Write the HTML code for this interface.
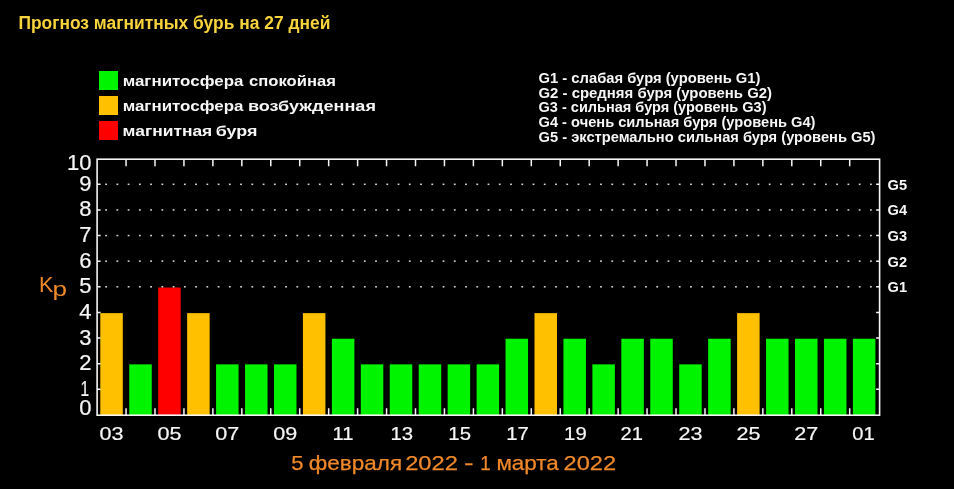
<!DOCTYPE html>
<html><head><meta charset="utf-8"><style>
html,body{margin:0;padding:0;background:#000;}
body{width:954px;height:489px;position:relative;overflow:hidden;font-family:"Liberation Sans",sans-serif;-webkit-font-smoothing:antialiased;}
svg{will-change:transform;}
</style></head><body>
<svg width="954" height="489" viewBox="0 0 954 489" style="position:absolute;left:0;top:0"><rect x="100.30" y="313.12" width="22.5" height="102.08" fill="#ffc000"/><rect x="129.25" y="364.36" width="22.5" height="50.84" fill="#00f400"/><rect x="158.19" y="287.50" width="22.5" height="127.70" fill="#ff0000"/><rect x="187.14" y="313.12" width="22.5" height="102.08" fill="#ffc000"/><rect x="216.08" y="364.36" width="22.5" height="50.84" fill="#00f400"/><rect x="245.03" y="364.36" width="22.5" height="50.84" fill="#00f400"/><rect x="273.98" y="364.36" width="22.5" height="50.84" fill="#00f400"/><rect x="302.92" y="313.12" width="22.5" height="102.08" fill="#ffc000"/><rect x="331.87" y="338.74" width="22.5" height="76.46" fill="#00f400"/><rect x="360.81" y="364.36" width="22.5" height="50.84" fill="#00f400"/><rect x="389.76" y="364.36" width="22.5" height="50.84" fill="#00f400"/><rect x="418.71" y="364.36" width="22.5" height="50.84" fill="#00f400"/><rect x="447.65" y="364.36" width="22.5" height="50.84" fill="#00f400"/><rect x="476.60" y="364.36" width="22.5" height="50.84" fill="#00f400"/><rect x="505.54" y="338.74" width="22.5" height="76.46" fill="#00f400"/><rect x="534.49" y="313.12" width="22.5" height="102.08" fill="#ffc000"/><rect x="563.44" y="338.74" width="22.5" height="76.46" fill="#00f400"/><rect x="592.38" y="364.36" width="22.5" height="50.84" fill="#00f400"/><rect x="621.33" y="338.74" width="22.5" height="76.46" fill="#00f400"/><rect x="650.27" y="338.74" width="22.5" height="76.46" fill="#00f400"/><rect x="679.22" y="364.36" width="22.5" height="50.84" fill="#00f400"/><rect x="708.17" y="338.74" width="22.5" height="76.46" fill="#00f400"/><rect x="737.11" y="313.12" width="22.5" height="102.08" fill="#ffc000"/><rect x="766.06" y="338.74" width="22.5" height="76.46" fill="#00f400"/><rect x="795.00" y="338.74" width="22.5" height="76.46" fill="#00f400"/><rect x="823.95" y="338.74" width="22.5" height="76.46" fill="#00f400"/><rect x="852.90" y="338.74" width="22.5" height="76.46" fill="#00f400"/><g fill="#d8d8d8"><rect x="105.20" y="286.05" width="1.8" height="1.5"/><rect x="116.45" y="286.05" width="1.8" height="1.5"/><rect x="127.69" y="286.05" width="1.8" height="1.5"/><rect x="138.94" y="286.05" width="1.8" height="1.5"/><rect x="150.19" y="286.05" width="1.8" height="1.5"/><rect x="161.43" y="286.05" width="1.8" height="1.5"/><rect x="172.68" y="286.05" width="1.8" height="1.5"/><rect x="183.93" y="286.05" width="1.8" height="1.5"/><rect x="195.18" y="286.05" width="1.8" height="1.5"/><rect x="206.42" y="286.05" width="1.8" height="1.5"/><rect x="217.67" y="286.05" width="1.8" height="1.5"/><rect x="228.92" y="286.05" width="1.8" height="1.5"/><rect x="240.16" y="286.05" width="1.8" height="1.5"/><rect x="251.41" y="286.05" width="1.8" height="1.5"/><rect x="262.66" y="286.05" width="1.8" height="1.5"/><rect x="273.90" y="286.05" width="1.8" height="1.5"/><rect x="285.15" y="286.05" width="1.8" height="1.5"/><rect x="296.40" y="286.05" width="1.8" height="1.5"/><rect x="307.65" y="286.05" width="1.8" height="1.5"/><rect x="318.89" y="286.05" width="1.8" height="1.5"/><rect x="330.14" y="286.05" width="1.8" height="1.5"/><rect x="341.39" y="286.05" width="1.8" height="1.5"/><rect x="352.63" y="286.05" width="1.8" height="1.5"/><rect x="363.88" y="286.05" width="1.8" height="1.5"/><rect x="375.13" y="286.05" width="1.8" height="1.5"/><rect x="386.38" y="286.05" width="1.8" height="1.5"/><rect x="397.62" y="286.05" width="1.8" height="1.5"/><rect x="408.87" y="286.05" width="1.8" height="1.5"/><rect x="420.12" y="286.05" width="1.8" height="1.5"/><rect x="431.36" y="286.05" width="1.8" height="1.5"/><rect x="442.61" y="286.05" width="1.8" height="1.5"/><rect x="453.86" y="286.05" width="1.8" height="1.5"/><rect x="465.10" y="286.05" width="1.8" height="1.5"/><rect x="476.35" y="286.05" width="1.8" height="1.5"/><rect x="487.60" y="286.05" width="1.8" height="1.5"/><rect x="498.85" y="286.05" width="1.8" height="1.5"/><rect x="510.09" y="286.05" width="1.8" height="1.5"/><rect x="521.34" y="286.05" width="1.8" height="1.5"/><rect x="532.59" y="286.05" width="1.8" height="1.5"/><rect x="543.83" y="286.05" width="1.8" height="1.5"/><rect x="555.08" y="286.05" width="1.8" height="1.5"/><rect x="566.33" y="286.05" width="1.8" height="1.5"/><rect x="577.57" y="286.05" width="1.8" height="1.5"/><rect x="588.82" y="286.05" width="1.8" height="1.5"/><rect x="600.07" y="286.05" width="1.8" height="1.5"/><rect x="611.32" y="286.05" width="1.8" height="1.5"/><rect x="622.56" y="286.05" width="1.8" height="1.5"/><rect x="633.81" y="286.05" width="1.8" height="1.5"/><rect x="645.06" y="286.05" width="1.8" height="1.5"/><rect x="656.30" y="286.05" width="1.8" height="1.5"/><rect x="667.55" y="286.05" width="1.8" height="1.5"/><rect x="678.80" y="286.05" width="1.8" height="1.5"/><rect x="690.04" y="286.05" width="1.8" height="1.5"/><rect x="701.29" y="286.05" width="1.8" height="1.5"/><rect x="712.54" y="286.05" width="1.8" height="1.5"/><rect x="723.79" y="286.05" width="1.8" height="1.5"/><rect x="735.03" y="286.05" width="1.8" height="1.5"/><rect x="746.28" y="286.05" width="1.8" height="1.5"/><rect x="757.53" y="286.05" width="1.8" height="1.5"/><rect x="768.77" y="286.05" width="1.8" height="1.5"/><rect x="780.02" y="286.05" width="1.8" height="1.5"/><rect x="791.27" y="286.05" width="1.8" height="1.5"/><rect x="802.51" y="286.05" width="1.8" height="1.5"/><rect x="813.76" y="286.05" width="1.8" height="1.5"/><rect x="825.01" y="286.05" width="1.8" height="1.5"/><rect x="836.25" y="286.05" width="1.8" height="1.5"/><rect x="847.50" y="286.05" width="1.8" height="1.5"/><rect x="858.75" y="286.05" width="1.8" height="1.5"/><rect x="870.00" y="286.05" width="1.8" height="1.5"/><rect x="105.20" y="260.43" width="1.8" height="1.5"/><rect x="116.45" y="260.43" width="1.8" height="1.5"/><rect x="127.69" y="260.43" width="1.8" height="1.5"/><rect x="138.94" y="260.43" width="1.8" height="1.5"/><rect x="150.19" y="260.43" width="1.8" height="1.5"/><rect x="161.43" y="260.43" width="1.8" height="1.5"/><rect x="172.68" y="260.43" width="1.8" height="1.5"/><rect x="183.93" y="260.43" width="1.8" height="1.5"/><rect x="195.18" y="260.43" width="1.8" height="1.5"/><rect x="206.42" y="260.43" width="1.8" height="1.5"/><rect x="217.67" y="260.43" width="1.8" height="1.5"/><rect x="228.92" y="260.43" width="1.8" height="1.5"/><rect x="240.16" y="260.43" width="1.8" height="1.5"/><rect x="251.41" y="260.43" width="1.8" height="1.5"/><rect x="262.66" y="260.43" width="1.8" height="1.5"/><rect x="273.90" y="260.43" width="1.8" height="1.5"/><rect x="285.15" y="260.43" width="1.8" height="1.5"/><rect x="296.40" y="260.43" width="1.8" height="1.5"/><rect x="307.65" y="260.43" width="1.8" height="1.5"/><rect x="318.89" y="260.43" width="1.8" height="1.5"/><rect x="330.14" y="260.43" width="1.8" height="1.5"/><rect x="341.39" y="260.43" width="1.8" height="1.5"/><rect x="352.63" y="260.43" width="1.8" height="1.5"/><rect x="363.88" y="260.43" width="1.8" height="1.5"/><rect x="375.13" y="260.43" width="1.8" height="1.5"/><rect x="386.38" y="260.43" width="1.8" height="1.5"/><rect x="397.62" y="260.43" width="1.8" height="1.5"/><rect x="408.87" y="260.43" width="1.8" height="1.5"/><rect x="420.12" y="260.43" width="1.8" height="1.5"/><rect x="431.36" y="260.43" width="1.8" height="1.5"/><rect x="442.61" y="260.43" width="1.8" height="1.5"/><rect x="453.86" y="260.43" width="1.8" height="1.5"/><rect x="465.10" y="260.43" width="1.8" height="1.5"/><rect x="476.35" y="260.43" width="1.8" height="1.5"/><rect x="487.60" y="260.43" width="1.8" height="1.5"/><rect x="498.85" y="260.43" width="1.8" height="1.5"/><rect x="510.09" y="260.43" width="1.8" height="1.5"/><rect x="521.34" y="260.43" width="1.8" height="1.5"/><rect x="532.59" y="260.43" width="1.8" height="1.5"/><rect x="543.83" y="260.43" width="1.8" height="1.5"/><rect x="555.08" y="260.43" width="1.8" height="1.5"/><rect x="566.33" y="260.43" width="1.8" height="1.5"/><rect x="577.57" y="260.43" width="1.8" height="1.5"/><rect x="588.82" y="260.43" width="1.8" height="1.5"/><rect x="600.07" y="260.43" width="1.8" height="1.5"/><rect x="611.32" y="260.43" width="1.8" height="1.5"/><rect x="622.56" y="260.43" width="1.8" height="1.5"/><rect x="633.81" y="260.43" width="1.8" height="1.5"/><rect x="645.06" y="260.43" width="1.8" height="1.5"/><rect x="656.30" y="260.43" width="1.8" height="1.5"/><rect x="667.55" y="260.43" width="1.8" height="1.5"/><rect x="678.80" y="260.43" width="1.8" height="1.5"/><rect x="690.04" y="260.43" width="1.8" height="1.5"/><rect x="701.29" y="260.43" width="1.8" height="1.5"/><rect x="712.54" y="260.43" width="1.8" height="1.5"/><rect x="723.79" y="260.43" width="1.8" height="1.5"/><rect x="735.03" y="260.43" width="1.8" height="1.5"/><rect x="746.28" y="260.43" width="1.8" height="1.5"/><rect x="757.53" y="260.43" width="1.8" height="1.5"/><rect x="768.77" y="260.43" width="1.8" height="1.5"/><rect x="780.02" y="260.43" width="1.8" height="1.5"/><rect x="791.27" y="260.43" width="1.8" height="1.5"/><rect x="802.51" y="260.43" width="1.8" height="1.5"/><rect x="813.76" y="260.43" width="1.8" height="1.5"/><rect x="825.01" y="260.43" width="1.8" height="1.5"/><rect x="836.25" y="260.43" width="1.8" height="1.5"/><rect x="847.50" y="260.43" width="1.8" height="1.5"/><rect x="858.75" y="260.43" width="1.8" height="1.5"/><rect x="870.00" y="260.43" width="1.8" height="1.5"/><rect x="105.20" y="234.81" width="1.8" height="1.5"/><rect x="116.45" y="234.81" width="1.8" height="1.5"/><rect x="127.69" y="234.81" width="1.8" height="1.5"/><rect x="138.94" y="234.81" width="1.8" height="1.5"/><rect x="150.19" y="234.81" width="1.8" height="1.5"/><rect x="161.43" y="234.81" width="1.8" height="1.5"/><rect x="172.68" y="234.81" width="1.8" height="1.5"/><rect x="183.93" y="234.81" width="1.8" height="1.5"/><rect x="195.18" y="234.81" width="1.8" height="1.5"/><rect x="206.42" y="234.81" width="1.8" height="1.5"/><rect x="217.67" y="234.81" width="1.8" height="1.5"/><rect x="228.92" y="234.81" width="1.8" height="1.5"/><rect x="240.16" y="234.81" width="1.8" height="1.5"/><rect x="251.41" y="234.81" width="1.8" height="1.5"/><rect x="262.66" y="234.81" width="1.8" height="1.5"/><rect x="273.90" y="234.81" width="1.8" height="1.5"/><rect x="285.15" y="234.81" width="1.8" height="1.5"/><rect x="296.40" y="234.81" width="1.8" height="1.5"/><rect x="307.65" y="234.81" width="1.8" height="1.5"/><rect x="318.89" y="234.81" width="1.8" height="1.5"/><rect x="330.14" y="234.81" width="1.8" height="1.5"/><rect x="341.39" y="234.81" width="1.8" height="1.5"/><rect x="352.63" y="234.81" width="1.8" height="1.5"/><rect x="363.88" y="234.81" width="1.8" height="1.5"/><rect x="375.13" y="234.81" width="1.8" height="1.5"/><rect x="386.38" y="234.81" width="1.8" height="1.5"/><rect x="397.62" y="234.81" width="1.8" height="1.5"/><rect x="408.87" y="234.81" width="1.8" height="1.5"/><rect x="420.12" y="234.81" width="1.8" height="1.5"/><rect x="431.36" y="234.81" width="1.8" height="1.5"/><rect x="442.61" y="234.81" width="1.8" height="1.5"/><rect x="453.86" y="234.81" width="1.8" height="1.5"/><rect x="465.10" y="234.81" width="1.8" height="1.5"/><rect x="476.35" y="234.81" width="1.8" height="1.5"/><rect x="487.60" y="234.81" width="1.8" height="1.5"/><rect x="498.85" y="234.81" width="1.8" height="1.5"/><rect x="510.09" y="234.81" width="1.8" height="1.5"/><rect x="521.34" y="234.81" width="1.8" height="1.5"/><rect x="532.59" y="234.81" width="1.8" height="1.5"/><rect x="543.83" y="234.81" width="1.8" height="1.5"/><rect x="555.08" y="234.81" width="1.8" height="1.5"/><rect x="566.33" y="234.81" width="1.8" height="1.5"/><rect x="577.57" y="234.81" width="1.8" height="1.5"/><rect x="588.82" y="234.81" width="1.8" height="1.5"/><rect x="600.07" y="234.81" width="1.8" height="1.5"/><rect x="611.32" y="234.81" width="1.8" height="1.5"/><rect x="622.56" y="234.81" width="1.8" height="1.5"/><rect x="633.81" y="234.81" width="1.8" height="1.5"/><rect x="645.06" y="234.81" width="1.8" height="1.5"/><rect x="656.30" y="234.81" width="1.8" height="1.5"/><rect x="667.55" y="234.81" width="1.8" height="1.5"/><rect x="678.80" y="234.81" width="1.8" height="1.5"/><rect x="690.04" y="234.81" width="1.8" height="1.5"/><rect x="701.29" y="234.81" width="1.8" height="1.5"/><rect x="712.54" y="234.81" width="1.8" height="1.5"/><rect x="723.79" y="234.81" width="1.8" height="1.5"/><rect x="735.03" y="234.81" width="1.8" height="1.5"/><rect x="746.28" y="234.81" width="1.8" height="1.5"/><rect x="757.53" y="234.81" width="1.8" height="1.5"/><rect x="768.77" y="234.81" width="1.8" height="1.5"/><rect x="780.02" y="234.81" width="1.8" height="1.5"/><rect x="791.27" y="234.81" width="1.8" height="1.5"/><rect x="802.51" y="234.81" width="1.8" height="1.5"/><rect x="813.76" y="234.81" width="1.8" height="1.5"/><rect x="825.01" y="234.81" width="1.8" height="1.5"/><rect x="836.25" y="234.81" width="1.8" height="1.5"/><rect x="847.50" y="234.81" width="1.8" height="1.5"/><rect x="858.75" y="234.81" width="1.8" height="1.5"/><rect x="870.00" y="234.81" width="1.8" height="1.5"/><rect x="105.20" y="209.19" width="1.8" height="1.5"/><rect x="116.45" y="209.19" width="1.8" height="1.5"/><rect x="127.69" y="209.19" width="1.8" height="1.5"/><rect x="138.94" y="209.19" width="1.8" height="1.5"/><rect x="150.19" y="209.19" width="1.8" height="1.5"/><rect x="161.43" y="209.19" width="1.8" height="1.5"/><rect x="172.68" y="209.19" width="1.8" height="1.5"/><rect x="183.93" y="209.19" width="1.8" height="1.5"/><rect x="195.18" y="209.19" width="1.8" height="1.5"/><rect x="206.42" y="209.19" width="1.8" height="1.5"/><rect x="217.67" y="209.19" width="1.8" height="1.5"/><rect x="228.92" y="209.19" width="1.8" height="1.5"/><rect x="240.16" y="209.19" width="1.8" height="1.5"/><rect x="251.41" y="209.19" width="1.8" height="1.5"/><rect x="262.66" y="209.19" width="1.8" height="1.5"/><rect x="273.90" y="209.19" width="1.8" height="1.5"/><rect x="285.15" y="209.19" width="1.8" height="1.5"/><rect x="296.40" y="209.19" width="1.8" height="1.5"/><rect x="307.65" y="209.19" width="1.8" height="1.5"/><rect x="318.89" y="209.19" width="1.8" height="1.5"/><rect x="330.14" y="209.19" width="1.8" height="1.5"/><rect x="341.39" y="209.19" width="1.8" height="1.5"/><rect x="352.63" y="209.19" width="1.8" height="1.5"/><rect x="363.88" y="209.19" width="1.8" height="1.5"/><rect x="375.13" y="209.19" width="1.8" height="1.5"/><rect x="386.38" y="209.19" width="1.8" height="1.5"/><rect x="397.62" y="209.19" width="1.8" height="1.5"/><rect x="408.87" y="209.19" width="1.8" height="1.5"/><rect x="420.12" y="209.19" width="1.8" height="1.5"/><rect x="431.36" y="209.19" width="1.8" height="1.5"/><rect x="442.61" y="209.19" width="1.8" height="1.5"/><rect x="453.86" y="209.19" width="1.8" height="1.5"/><rect x="465.10" y="209.19" width="1.8" height="1.5"/><rect x="476.35" y="209.19" width="1.8" height="1.5"/><rect x="487.60" y="209.19" width="1.8" height="1.5"/><rect x="498.85" y="209.19" width="1.8" height="1.5"/><rect x="510.09" y="209.19" width="1.8" height="1.5"/><rect x="521.34" y="209.19" width="1.8" height="1.5"/><rect x="532.59" y="209.19" width="1.8" height="1.5"/><rect x="543.83" y="209.19" width="1.8" height="1.5"/><rect x="555.08" y="209.19" width="1.8" height="1.5"/><rect x="566.33" y="209.19" width="1.8" height="1.5"/><rect x="577.57" y="209.19" width="1.8" height="1.5"/><rect x="588.82" y="209.19" width="1.8" height="1.5"/><rect x="600.07" y="209.19" width="1.8" height="1.5"/><rect x="611.32" y="209.19" width="1.8" height="1.5"/><rect x="622.56" y="209.19" width="1.8" height="1.5"/><rect x="633.81" y="209.19" width="1.8" height="1.5"/><rect x="645.06" y="209.19" width="1.8" height="1.5"/><rect x="656.30" y="209.19" width="1.8" height="1.5"/><rect x="667.55" y="209.19" width="1.8" height="1.5"/><rect x="678.80" y="209.19" width="1.8" height="1.5"/><rect x="690.04" y="209.19" width="1.8" height="1.5"/><rect x="701.29" y="209.19" width="1.8" height="1.5"/><rect x="712.54" y="209.19" width="1.8" height="1.5"/><rect x="723.79" y="209.19" width="1.8" height="1.5"/><rect x="735.03" y="209.19" width="1.8" height="1.5"/><rect x="746.28" y="209.19" width="1.8" height="1.5"/><rect x="757.53" y="209.19" width="1.8" height="1.5"/><rect x="768.77" y="209.19" width="1.8" height="1.5"/><rect x="780.02" y="209.19" width="1.8" height="1.5"/><rect x="791.27" y="209.19" width="1.8" height="1.5"/><rect x="802.51" y="209.19" width="1.8" height="1.5"/><rect x="813.76" y="209.19" width="1.8" height="1.5"/><rect x="825.01" y="209.19" width="1.8" height="1.5"/><rect x="836.25" y="209.19" width="1.8" height="1.5"/><rect x="847.50" y="209.19" width="1.8" height="1.5"/><rect x="858.75" y="209.19" width="1.8" height="1.5"/><rect x="870.00" y="209.19" width="1.8" height="1.5"/><rect x="105.20" y="183.57" width="1.8" height="1.5"/><rect x="116.45" y="183.57" width="1.8" height="1.5"/><rect x="127.69" y="183.57" width="1.8" height="1.5"/><rect x="138.94" y="183.57" width="1.8" height="1.5"/><rect x="150.19" y="183.57" width="1.8" height="1.5"/><rect x="161.43" y="183.57" width="1.8" height="1.5"/><rect x="172.68" y="183.57" width="1.8" height="1.5"/><rect x="183.93" y="183.57" width="1.8" height="1.5"/><rect x="195.18" y="183.57" width="1.8" height="1.5"/><rect x="206.42" y="183.57" width="1.8" height="1.5"/><rect x="217.67" y="183.57" width="1.8" height="1.5"/><rect x="228.92" y="183.57" width="1.8" height="1.5"/><rect x="240.16" y="183.57" width="1.8" height="1.5"/><rect x="251.41" y="183.57" width="1.8" height="1.5"/><rect x="262.66" y="183.57" width="1.8" height="1.5"/><rect x="273.90" y="183.57" width="1.8" height="1.5"/><rect x="285.15" y="183.57" width="1.8" height="1.5"/><rect x="296.40" y="183.57" width="1.8" height="1.5"/><rect x="307.65" y="183.57" width="1.8" height="1.5"/><rect x="318.89" y="183.57" width="1.8" height="1.5"/><rect x="330.14" y="183.57" width="1.8" height="1.5"/><rect x="341.39" y="183.57" width="1.8" height="1.5"/><rect x="352.63" y="183.57" width="1.8" height="1.5"/><rect x="363.88" y="183.57" width="1.8" height="1.5"/><rect x="375.13" y="183.57" width="1.8" height="1.5"/><rect x="386.38" y="183.57" width="1.8" height="1.5"/><rect x="397.62" y="183.57" width="1.8" height="1.5"/><rect x="408.87" y="183.57" width="1.8" height="1.5"/><rect x="420.12" y="183.57" width="1.8" height="1.5"/><rect x="431.36" y="183.57" width="1.8" height="1.5"/><rect x="442.61" y="183.57" width="1.8" height="1.5"/><rect x="453.86" y="183.57" width="1.8" height="1.5"/><rect x="465.10" y="183.57" width="1.8" height="1.5"/><rect x="476.35" y="183.57" width="1.8" height="1.5"/><rect x="487.60" y="183.57" width="1.8" height="1.5"/><rect x="498.85" y="183.57" width="1.8" height="1.5"/><rect x="510.09" y="183.57" width="1.8" height="1.5"/><rect x="521.34" y="183.57" width="1.8" height="1.5"/><rect x="532.59" y="183.57" width="1.8" height="1.5"/><rect x="543.83" y="183.57" width="1.8" height="1.5"/><rect x="555.08" y="183.57" width="1.8" height="1.5"/><rect x="566.33" y="183.57" width="1.8" height="1.5"/><rect x="577.57" y="183.57" width="1.8" height="1.5"/><rect x="588.82" y="183.57" width="1.8" height="1.5"/><rect x="600.07" y="183.57" width="1.8" height="1.5"/><rect x="611.32" y="183.57" width="1.8" height="1.5"/><rect x="622.56" y="183.57" width="1.8" height="1.5"/><rect x="633.81" y="183.57" width="1.8" height="1.5"/><rect x="645.06" y="183.57" width="1.8" height="1.5"/><rect x="656.30" y="183.57" width="1.8" height="1.5"/><rect x="667.55" y="183.57" width="1.8" height="1.5"/><rect x="678.80" y="183.57" width="1.8" height="1.5"/><rect x="690.04" y="183.57" width="1.8" height="1.5"/><rect x="701.29" y="183.57" width="1.8" height="1.5"/><rect x="712.54" y="183.57" width="1.8" height="1.5"/><rect x="723.79" y="183.57" width="1.8" height="1.5"/><rect x="735.03" y="183.57" width="1.8" height="1.5"/><rect x="746.28" y="183.57" width="1.8" height="1.5"/><rect x="757.53" y="183.57" width="1.8" height="1.5"/><rect x="768.77" y="183.57" width="1.8" height="1.5"/><rect x="780.02" y="183.57" width="1.8" height="1.5"/><rect x="791.27" y="183.57" width="1.8" height="1.5"/><rect x="802.51" y="183.57" width="1.8" height="1.5"/><rect x="813.76" y="183.57" width="1.8" height="1.5"/><rect x="825.01" y="183.57" width="1.8" height="1.5"/><rect x="836.25" y="183.57" width="1.8" height="1.5"/><rect x="847.50" y="183.57" width="1.8" height="1.5"/><rect x="858.75" y="183.57" width="1.8" height="1.5"/><rect x="870.00" y="183.57" width="1.8" height="1.5"/></g><rect x="97.1" y="159.2" width="782.50" height="256.00" fill="none" stroke="#f6f6f6" stroke-width="1.6"/><path d="M126.05 159.2v7M126.05 415.2v-7M154.99 159.2v7M154.99 415.2v-7M183.94 159.2v7M183.94 415.2v-7M212.88 159.2v7M212.88 415.2v-7M241.83 159.2v7M241.83 415.2v-7M270.78 159.2v7M270.78 415.2v-7M299.72 159.2v7M299.72 415.2v-7M328.67 159.2v7M328.67 415.2v-7M357.61 159.2v7M357.61 415.2v-7M386.56 159.2v7M386.56 415.2v-7M415.51 159.2v7M415.51 415.2v-7M444.45 159.2v7M444.45 415.2v-7M473.40 159.2v7M473.40 415.2v-7M502.34 159.2v7M502.34 415.2v-7M531.29 159.2v7M531.29 415.2v-7M560.24 159.2v7M560.24 415.2v-7M589.18 159.2v7M589.18 415.2v-7M618.13 159.2v7M618.13 415.2v-7M647.07 159.2v7M647.07 415.2v-7M676.02 159.2v7M676.02 415.2v-7M704.97 159.2v7M704.97 415.2v-7M733.91 159.2v7M733.91 415.2v-7M762.86 159.2v7M762.86 415.2v-7M791.80 159.2v7M791.80 415.2v-7M820.75 159.2v7M820.75 415.2v-7M849.70 159.2v7M849.70 415.2v-7M97.1 389.28h3.5M879.6 389.28h-3.5M97.1 363.66h3.5M879.6 363.66h-3.5M97.1 338.04h3.5M879.6 338.04h-3.5M97.1 312.42h3.5M879.6 312.42h-3.5M97.1 286.80h3.5M879.6 286.80h-3.5M97.1 261.18h3.5M879.6 261.18h-3.5M97.1 235.56h3.5M879.6 235.56h-3.5M97.1 209.94h3.5M879.6 209.94h-3.5M97.1 184.32h3.5M879.6 184.32h-3.5" stroke="#f6f6f6" stroke-width="1.5" fill="none"/><text x="91.5" y="414.7" text-anchor="end" font-family="Liberation Sans" font-size="22" fill="#f6f6f6" stroke="#f6f6f6" stroke-width="0.2">0</text><text x="80.5" y="395.6" font-family="Liberation Sans" font-size="22" fill="#f6f6f6" stroke="#f6f6f6" stroke-width="0.2" textLength="8.6" lengthAdjust="spacingAndGlyphs">1</text><text x="91.5" y="370.2" text-anchor="end" font-family="Liberation Sans" font-size="22" fill="#f6f6f6" stroke="#f6f6f6" stroke-width="0.2">2</text><text x="91.5" y="344.5" text-anchor="end" font-family="Liberation Sans" font-size="22" fill="#f6f6f6" stroke="#f6f6f6" stroke-width="0.2">3</text><text x="91.5" y="318.9" text-anchor="end" font-family="Liberation Sans" font-size="22" fill="#f6f6f6" stroke="#f6f6f6" stroke-width="0.2">4</text><text x="91.5" y="293.3" text-anchor="end" font-family="Liberation Sans" font-size="22" fill="#f6f6f6" stroke="#f6f6f6" stroke-width="0.2">5</text><text x="91.5" y="267.7" text-anchor="end" font-family="Liberation Sans" font-size="22" fill="#f6f6f6" stroke="#f6f6f6" stroke-width="0.2">6</text><text x="91.5" y="242.1" text-anchor="end" font-family="Liberation Sans" font-size="22" fill="#f6f6f6" stroke="#f6f6f6" stroke-width="0.2">7</text><text x="91.5" y="216.4" text-anchor="end" font-family="Liberation Sans" font-size="22" fill="#f6f6f6" stroke="#f6f6f6" stroke-width="0.2">8</text><text x="91.5" y="190.8" text-anchor="end" font-family="Liberation Sans" font-size="22" fill="#f6f6f6" stroke="#f6f6f6" stroke-width="0.2">9</text><text x="91.5" y="169.6" text-anchor="end" font-family="Liberation Sans" font-size="22" fill="#f6f6f6" stroke="#f6f6f6" stroke-width="0.2">10</text><text x="887.6" y="292.1" font-family="Liberation Sans" font-weight="bold" font-size="14" fill="#f6f6f6" textLength="19.5" lengthAdjust="spacingAndGlyphs">G1</text><text x="887.6" y="266.5" font-family="Liberation Sans" font-weight="bold" font-size="14" fill="#f6f6f6" textLength="19.5" lengthAdjust="spacingAndGlyphs">G2</text><text x="887.6" y="240.9" font-family="Liberation Sans" font-weight="bold" font-size="14" fill="#f6f6f6" textLength="19.5" lengthAdjust="spacingAndGlyphs">G3</text><text x="887.6" y="215.2" font-family="Liberation Sans" font-weight="bold" font-size="14" fill="#f6f6f6" textLength="19.5" lengthAdjust="spacingAndGlyphs">G4</text><text x="887.6" y="189.6" font-family="Liberation Sans" font-weight="bold" font-size="14" fill="#f6f6f6" textLength="19.5" lengthAdjust="spacingAndGlyphs">G5</text><text x="99.60" y="439.6" font-family="Liberation Sans" font-size="18.5" fill="#f6f6f6" stroke="#f6f6f6" stroke-width="0.2" textLength="24.0" lengthAdjust="spacingAndGlyphs">03</text><text x="157.49" y="439.6" font-family="Liberation Sans" font-size="18.5" fill="#f6f6f6" stroke="#f6f6f6" stroke-width="0.2" textLength="24.0" lengthAdjust="spacingAndGlyphs">05</text><text x="215.38" y="439.6" font-family="Liberation Sans" font-size="18.5" fill="#f6f6f6" stroke="#f6f6f6" stroke-width="0.2" textLength="24.0" lengthAdjust="spacingAndGlyphs">07</text><text x="273.28" y="439.6" font-family="Liberation Sans" font-size="18.5" fill="#f6f6f6" stroke="#f6f6f6" stroke-width="0.2" textLength="24.0" lengthAdjust="spacingAndGlyphs">09</text><text x="332.57" y="439.6" font-family="Liberation Sans" font-size="18.5" fill="#f6f6f6" stroke="#f6f6f6" stroke-width="0.2" textLength="21.0" lengthAdjust="spacingAndGlyphs">11</text><text x="390.46" y="439.6" font-family="Liberation Sans" font-size="18.5" fill="#f6f6f6" stroke="#f6f6f6" stroke-width="0.2" textLength="22.6" lengthAdjust="spacingAndGlyphs">13</text><text x="448.35" y="439.6" font-family="Liberation Sans" font-size="18.5" fill="#f6f6f6" stroke="#f6f6f6" stroke-width="0.2" textLength="22.6" lengthAdjust="spacingAndGlyphs">15</text><text x="506.24" y="439.6" font-family="Liberation Sans" font-size="18.5" fill="#f6f6f6" stroke="#f6f6f6" stroke-width="0.2" textLength="22.6" lengthAdjust="spacingAndGlyphs">17</text><text x="564.14" y="439.6" font-family="Liberation Sans" font-size="18.5" fill="#f6f6f6" stroke="#f6f6f6" stroke-width="0.2" textLength="22.6" lengthAdjust="spacingAndGlyphs">19</text><text x="620.63" y="439.6" font-family="Liberation Sans" font-size="18.5" fill="#f6f6f6" stroke="#f6f6f6" stroke-width="0.2" textLength="22.4" lengthAdjust="spacingAndGlyphs">21</text><text x="678.52" y="439.6" font-family="Liberation Sans" font-size="18.5" fill="#f6f6f6" stroke="#f6f6f6" stroke-width="0.2" textLength="24.0" lengthAdjust="spacingAndGlyphs">23</text><text x="736.41" y="439.6" font-family="Liberation Sans" font-size="18.5" fill="#f6f6f6" stroke="#f6f6f6" stroke-width="0.2" textLength="24.0" lengthAdjust="spacingAndGlyphs">25</text><text x="794.30" y="439.6" font-family="Liberation Sans" font-size="18.5" fill="#f6f6f6" stroke="#f6f6f6" stroke-width="0.2" textLength="24.0" lengthAdjust="spacingAndGlyphs">27</text><text x="852.20" y="439.6" font-family="Liberation Sans" font-size="18.5" fill="#f6f6f6" stroke="#f6f6f6" stroke-width="0.2" textLength="22.4" lengthAdjust="spacingAndGlyphs">01</text><text x="39" y="292" font-family="Liberation Sans" font-size="21.5" fill="#f0892a">K</text><text x="52.5" y="295.5" font-family="Liberation Sans" font-size="19.5" fill="#f0892a" textLength="14.5" lengthAdjust="spacingAndGlyphs">p</text><text x="291.15" y="470.4" font-family="Liberation Sans" font-size="21" fill="#f0892a" stroke="#f0892a" stroke-width="0.25" textLength="12.27" lengthAdjust="spacingAndGlyphs">5</text><text x="308.83" y="470.4" font-family="Liberation Sans" font-size="21" fill="#f0892a" stroke="#f0892a" stroke-width="0.25" textLength="93.36" lengthAdjust="spacingAndGlyphs">февраля</text><text x="405.17" y="470.4" font-family="Liberation Sans" font-size="21" fill="#f0892a" stroke="#f0892a" stroke-width="0.25" textLength="52.74" lengthAdjust="spacingAndGlyphs">2022</text><text x="464.14" y="470.4" font-family="Liberation Sans" font-size="21" fill="#f0892a" stroke="#f0892a" stroke-width="0.25" textLength="9.52" lengthAdjust="spacingAndGlyphs">-</text><text x="480.31" y="470.4" font-family="Liberation Sans" font-size="21" fill="#f0892a" stroke="#f0892a" stroke-width="0.25" textLength="10.4" lengthAdjust="spacingAndGlyphs">1</text><text x="496.43" y="470.4" font-family="Liberation Sans" font-size="21" fill="#f0892a" stroke="#f0892a" stroke-width="0.25" textLength="62.43" lengthAdjust="spacingAndGlyphs">марта</text><text x="563.58" y="470.4" font-family="Liberation Sans" font-size="21" fill="#f0892a" stroke="#f0892a" stroke-width="0.25" textLength="52.53" lengthAdjust="spacingAndGlyphs">2022</text><text x="18.4" y="28.9" font-family="Liberation Sans" font-weight="bold" font-size="18" fill="#f8d43c" textLength="312" lengthAdjust="spacingAndGlyphs">Прогноз магнитных бурь на 27 дней</text><rect x="99" y="71" width="19" height="19" fill="#00f400"/><text x="122.67" y="85.5" font-family="Liberation Sans" font-weight="bold" font-size="15" fill="#f6f6f6" textLength="120.73" lengthAdjust="spacingAndGlyphs">магнитосфера</text><text x="249.1" y="85.5" font-family="Liberation Sans" font-weight="bold" font-size="15" fill="#f6f6f6" textLength="86.77" lengthAdjust="spacingAndGlyphs">спокойная</text><rect x="99" y="96" width="19" height="19" fill="#ffc000"/><text x="122.67" y="110.5" font-family="Liberation Sans" font-weight="bold" font-size="15" fill="#f6f6f6" textLength="120.73" lengthAdjust="spacingAndGlyphs">магнитосфера</text><text x="247.9" y="110.5" font-family="Liberation Sans" font-weight="bold" font-size="15" fill="#f6f6f6" textLength="128.08" lengthAdjust="spacingAndGlyphs">возбужденная</text><rect x="99" y="121" width="19" height="19" fill="#ff0000"/><text x="122.64" y="135.5" font-family="Liberation Sans" font-weight="bold" font-size="15" fill="#f6f6f6" textLength="89.65" lengthAdjust="spacingAndGlyphs">магнитная</text><text x="215.71" y="135.5" font-family="Liberation Sans" font-weight="bold" font-size="15" fill="#f6f6f6" textLength="41.61" lengthAdjust="spacingAndGlyphs">буря</text><text x="538.5" y="83.3" font-family="Liberation Sans" font-weight="bold" font-size="14" fill="#f6f6f6" textLength="222" lengthAdjust="spacingAndGlyphs">G1 - слабая буря (уровень G1)</text><text x="538.5" y="97.5" font-family="Liberation Sans" font-weight="bold" font-size="14" fill="#f6f6f6" textLength="233.5" lengthAdjust="spacingAndGlyphs">G2 - средняя буря (уровень G2)</text><text x="538.5" y="112.2" font-family="Liberation Sans" font-weight="bold" font-size="14" fill="#f6f6f6" textLength="228" lengthAdjust="spacingAndGlyphs">G3 - сильная буря (уровень G3)</text><text x="538.5" y="127.0" font-family="Liberation Sans" font-weight="bold" font-size="14" fill="#f6f6f6" textLength="277" lengthAdjust="spacingAndGlyphs">G4 - очень сильная буря (уровень G4)</text><text x="538.5" y="141.7" font-family="Liberation Sans" font-weight="bold" font-size="14" fill="#f6f6f6" textLength="337" lengthAdjust="spacingAndGlyphs">G5 - экстремально сильная буря (уровень G5)</text></svg>
</body></html>
